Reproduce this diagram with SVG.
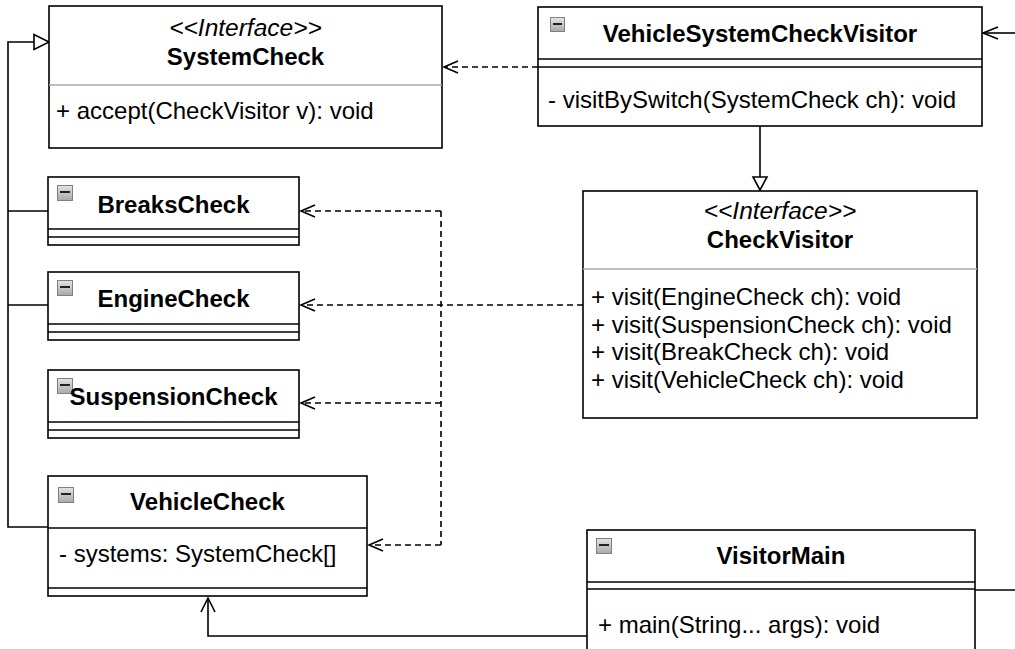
<svg xmlns="http://www.w3.org/2000/svg" width="1015" height="649" viewBox="0 0 1015 649">
<defs>
<linearGradient id="ig" x1="0" y1="0" x2="0" y2="1">
<stop offset="0" stop-color="#e4e4e4"/>
<stop offset="1" stop-color="#a9a9a9"/>
</linearGradient>
<style>
.box{fill:#fff;stroke:#000;stroke-width:1.6}
.sep{stroke:#000;stroke-width:1.6}
.gsep{stroke:#a8a8a8;stroke-width:1.6}
text{font-family:"Liberation Sans",Helvetica,Arial,sans-serif;font-size:24px;fill:#000}
.t{font-weight:bold;text-anchor:middle}
.st{font-style:italic;text-anchor:middle;font-size:24.5px}
.ic{fill:url(#ig);stroke:#808080;stroke-width:1}
.icd{stroke:#222;stroke-width:2}
.ln{fill:none;stroke:#000;stroke-width:1.6}
.dl{fill:none;stroke:#000;stroke-width:1.6;stroke-dasharray:6 4}
.ah{fill:none;stroke:#000;stroke-width:1.6}
.tri{fill:#fff;stroke:#000;stroke-width:1.6}
</style>
</defs>

<g id="connectors">
<path class="ln" d="M48,527 H8 V42 H34"/>
<path class="ln" d="M48,211 H8"/>
<path class="ln" d="M48,305 H8"/>
<polygon class="tri" points="49,42 34,34.5 34,49.5"/>
<path class="dl" d="M538,67 H444"/>
<polyline class="ah" points="458,61 444,67 458,73"/>
<path class="dl" d="M583,305 H301"/>
<path class="dl" d="M441,211 V545"/>
<path class="dl" d="M441,211 H301"/>
<path class="dl" d="M441,403 H301"/>
<path class="dl" d="M441,545 H369"/>
<polyline class="ah" points="315,205 301,211 315,217"/>
<polyline class="ah" points="315,299 301,305 315,311"/>
<polyline class="ah" points="315,397 301,403 315,409"/>
<polyline class="ah" points="383,539 369,545 383,551"/>
<path class="ln" d="M760,126 V177"/>
<polygon class="tri" points="760,190 753,177 767,177"/>
<path class="ln" d="M1015,33 H983"/>
<polyline class="ah" points="998,27 983,33 998,39"/>
<path class="ln" d="M587,636 H208 V598"/>
<polyline class="ah" points="201,612 208,598 215,612"/>
<path class="ln" d="M975,590 H1015"/>
</g>

<g id="SystemCheck">
<rect class="box" x="49" y="6" width="393" height="142"/>
<line class="gsep" x1="49" y1="85" x2="442" y2="85"/>
<text class="st" x="245.5" y="36">&lt;&lt;Interface&gt;&gt;</text>
<text class="t" x="245.5" y="65">SystemCheck</text>
<text x="56" y="119">+ accept(CheckVisitor v): void</text>
</g>

<g id="VehicleSystemCheckVisitor">
<rect class="box" x="538" y="7" width="444" height="119"/>
<line class="sep" x1="538" y1="59" x2="982" y2="59"/>
<line class="sep" x1="538" y1="67" x2="982" y2="67"/>
<rect class="ic" x="550.5" y="17.5" width="14" height="14"/>
<line class="icd" x1="553" y1="24" x2="562" y2="24"/>
<text class="t" x="760" y="42">VehicleSystemCheckVisitor</text>
<text x="548" y="108">- visitBySwitch(SystemCheck ch): void</text>
</g>

<g id="CheckVisitor">
<rect class="box" x="583" y="191" width="394" height="227"/>
<line class="gsep" x1="583" y1="269" x2="977" y2="269"/>
<text class="st" x="780" y="219">&lt;&lt;Interface&gt;&gt;</text>
<text class="t" x="780" y="248">CheckVisitor</text>
<text x="591" y="305">+ visit(EngineCheck ch): void</text>
<text x="591" y="332.5">+ visit(SuspensionCheck ch): void</text>
<text x="591" y="360">+ visit(BreakCheck ch): void</text>
<text x="591" y="387.5">+ visit(VehicleCheck ch): void</text>
</g>

<g id="BreaksCheck">
<rect class="box" x="48" y="177" width="251" height="68"/>
<line class="sep" x1="48" y1="229" x2="299" y2="229"/>
<line class="sep" x1="48" y1="237" x2="299" y2="237"/>
<rect class="ic" x="57.5" y="185.5" width="15" height="15"/>
<line class="icd" x1="60" y1="192" x2="70" y2="192"/>
<text class="t" x="173.5" y="213">BreaksCheck</text>
</g>

<g id="EngineCheck">
<rect class="box" x="48" y="272" width="251" height="68"/>
<line class="sep" x1="48" y1="324" x2="299" y2="324"/>
<line class="sep" x1="48" y1="332" x2="299" y2="332"/>
<rect class="ic" x="57.5" y="280.5" width="15" height="15"/>
<line class="icd" x1="60" y1="287" x2="70" y2="287"/>
<text class="t" x="173.5" y="307">EngineCheck</text>
</g>

<g id="SuspensionCheck">
<rect class="box" x="48" y="370" width="251" height="68"/>
<line class="sep" x1="48" y1="422" x2="299" y2="422"/>
<line class="sep" x1="48" y1="430" x2="299" y2="430"/>
<rect class="ic" x="57.5" y="378.5" width="15" height="15"/>
<line class="icd" x1="60" y1="385" x2="70" y2="385"/>
<text class="t" x="173.5" y="405">SuspensionCheck</text>
</g>

<g id="VehicleCheck">
<rect class="box" x="48" y="476" width="319" height="120"/>
<line class="sep" x1="48" y1="528" x2="367" y2="528"/>
<line class="sep" x1="48" y1="588" x2="367" y2="588"/>
<rect class="ic" x="58.5" y="487.5" width="15" height="15"/>
<line class="icd" x1="61" y1="494" x2="71" y2="494"/>
<text class="t" x="207.5" y="510">VehicleCheck</text>
<text x="59" y="562">- systems: SystemCheck[]</text>
</g>

<g id="VisitorMain">
<rect class="box" x="587" y="530" width="388" height="130"/>
<line class="sep" x1="587" y1="582" x2="975" y2="582"/>
<line class="sep" x1="587" y1="589" x2="975" y2="589"/>
<rect class="ic" x="596.5" y="538.5" width="15" height="15"/>
<line class="icd" x1="599" y1="545" x2="609" y2="545"/>
<text class="t" x="781" y="564">VisitorMain</text>
<text x="598" y="633">+ main(String... args): void</text>
</g>
</svg>
